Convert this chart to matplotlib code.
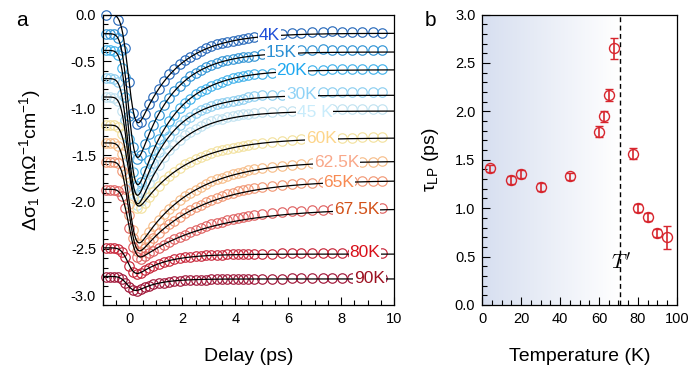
import math

import matplotlib

matplotlib.use("Agg")
import matplotlib.pyplot as plt
import numpy as np
from matplotlib.colors import LinearSegmentedColormap
from matplotlib.ticker import MultipleLocator

plt.rcParams["font.family"] = ["Liberation Sans", "DejaVu Sans"]
plt.rcParams["mathtext.fontset"] = "custom"
plt.rcParams["mathtext.rm"] = "Liberation Sans"
plt.rcParams["mathtext.it"] = "Liberation Sans:italic"

## Panel a: transient conductivity traces
temperaturas = ["4K", "15K", "20K", "30K", "45 K", "60K", "62.5K", "65K", "67.5K", "80K", "90K"]

delay_denso = [-0.9, -0.75, -0.6, -0.45, -0.3, -0.15, 0.0, 0.15, 0.3, 0.45, 0.6, 0.75, 0.9,
               1.1, 1.3, 1.5, 1.7, 1.9, 2.1, 2.3, 2.5, 2.7, 2.9, 3.1, 3.3, 3.5, 3.7, 3.9,
               4.1, 4.3, 4.5, 4.7]
delay_cauda = [5.0, 5.4, 5.75, 6.15, 6.5, 6.9, 7.3, 7.65, 8.05, 8.4, 8.8, 9.2, 9.55]

nan = np.nan
sinal_4K = [0.00, nan, nan, -0.06, -0.18, -0.36, -0.72, -1.05, -1.17, -1.15, -1.06, -0.96, -0.88,
            -0.79, -0.71, -0.64, -0.58, -0.53, -0.49, -0.45, -0.42, -0.39, -0.36, -0.34, -0.32,
            -0.30, -0.29, -0.28, -0.27, -0.26, -0.25, -0.24,
            -0.23, -0.22, -0.21, -0.20, -0.20, -0.19, -0.19, -0.18, -0.19, -0.19, -0.19, -0.19, -0.20]
sinal_15K = [-0.21, -0.21, -0.21, -0.25, -0.38, -0.67, -1.08, -1.41, -1.54, -1.50, -1.38, -1.27, -1.18,
             -1.07, -0.97, -0.89, -0.82, -0.76, -0.71, -0.66, -0.62, -0.59, -0.56, -0.54, -0.52,
             -0.50, -0.49, -0.48, -0.46, -0.45, -0.45, -0.44,
             -0.42, -0.40, -0.39, -0.38, -0.38, -0.38, -0.37, -0.38, -0.38, -0.38, -0.38, -0.38, -0.38]
sinal_20K = [-0.38, -0.38, -0.39, -0.43, -0.57, -0.88, -1.33, -1.68, -1.83, -1.79, -1.67, -1.55, -1.45,
             -1.33, -1.23, -1.14, -1.07, -1.00, -0.94, -0.90, -0.85, -0.82, -0.79, -0.76, -0.74,
             -0.72, -0.70, -0.68, -0.67, -0.66, -0.65, -0.64,
             -0.63, -0.62, -0.61, -0.60, -0.59, -0.59, -0.59, -0.58, -0.58, -0.58, -0.58, -0.58, -0.58]
sinal_30K = [-0.68, -0.68, -0.69, -0.72, -0.85, -1.13, -1.52, -1.83, -1.94, -1.89, -1.78, -1.67, -1.58,
             -1.47, -1.38, -1.30, -1.23, -1.18, -1.13, -1.09, -1.05, -1.02, -1.00, -0.98, -0.96,
             -0.94, -0.93, -0.92, -0.91, -0.90, -0.88, -0.87,
             -0.86, -0.86, -0.86, -0.85, -0.84, -0.83, -0.83, -0.83, -0.83, -0.83, -0.83, -0.83, -0.83]
sinal_45K = [-0.88, -0.88, -0.89, -0.92, -1.03, -1.28, -1.64, -1.92, -2.03, -1.99, -1.89, -1.80, -1.72,
             -1.61, -1.52, -1.45, -1.39, -1.34, -1.29, -1.25, -1.22, -1.19, -1.16, -1.14, -1.12,
             -1.11, -1.09, -1.08, -1.07, -1.06, -1.06, -1.05,
             -1.04, -1.04, -1.03, -1.03, -1.02, -1.02, -1.02, -1.01, -1.01, -1.01, -1.01, -1.01, -1.01]
sinal_60K = [-1.18, -1.18, -1.18, -1.20, -1.28, -1.46, -1.73, -1.96, -2.07, -2.07, -2.01, -1.95, -1.89,
             -1.83, -1.77, -1.72, -1.68, -1.64, -1.60, -1.57, -1.54, -1.52, -1.50, -1.48, -1.46,
             -1.45, -1.43, -1.42, -1.41, -1.40, -1.39, -1.38,
             -1.37, -1.36, -1.35, -1.34, -1.33, -1.33, -1.33, -1.32, -1.32, -1.32, -1.31, -1.31, -1.31]
sinal_62K = [-1.37, -1.37, -1.37, -1.40, -1.49, -1.70, -2.02, -2.30, -2.44, -2.45, -2.39, -2.32, -2.26,
             -2.19, -2.13, -2.08, -2.03, -1.98, -1.94, -1.90, -1.87, -1.84, -1.81, -1.78, -1.76,
             -1.74, -1.72, -1.70, -1.69, -1.68, -1.66, -1.65,
             -1.64, -1.63, -1.62, -1.61, -1.60, -1.59, -1.59, -1.58, -1.58, -1.57, -1.57, -1.57, -1.56]
sinal_65K = [-1.57, -1.57, -1.57, -1.59, -1.67, -1.86, -2.14, -2.39, -2.52, -2.53, -2.49, -2.43, -2.39,
             -2.33, -2.28, -2.24, -2.20, -2.16, -2.12, -2.09, -2.05, -2.03, -2.00, -1.98, -1.96,
             -1.94, -1.92, -1.90, -1.88, -1.87, -1.86, -1.85,
             -1.84, -1.83, -1.82, -1.81, -1.80, -1.80, -1.79, -1.79, -1.78, -1.78, -1.78, -1.78, -1.78]
sinal_67K = [-1.87, -1.87, -1.87, -1.88, -1.94, -2.07, -2.28, -2.48, -2.59, -2.61, -2.58, -2.55, -2.52,
             -2.49, -2.46, -2.43, -2.40, -2.37, -2.35, -2.32, -2.30, -2.28, -2.26, -2.24, -2.22,
             -2.21, -2.19, -2.18, -2.17, -2.16, -2.15, -2.14,
             -2.13, -2.12, -2.11, -2.10, -2.10, -2.09, -2.09, -2.08, -2.08, -2.08, -2.08, -2.07, -2.07]
sinal_80K = [-2.49, -2.49, -2.49, -2.50, -2.53, -2.59, -2.68, -2.75, -2.77, -2.76, -2.73, -2.70, -2.68,
             -2.66, -2.64, -2.63, -2.61, -2.60, -2.59, -2.59, -2.58, -2.58, -2.57, -2.57, -2.57,
             -2.57, -2.56, -2.56, -2.56, -2.56, -2.56, -2.56,
             -2.56, -2.56, -2.55, -2.55, -2.55, -2.55, -2.55, -2.55, -2.55, -2.55, -2.55, -2.55, -2.55]
sinal_90K = [-2.80, -2.80, -2.80, -2.80, -2.82, -2.86, -2.91, -2.94, -2.95, -2.93, -2.91, -2.90, -2.88,
             -2.87, -2.86, -2.85, -2.84, -2.84, -2.83, -2.83, -2.83, -2.83, -2.83, -2.82, -2.82,
             -2.82, -2.82, -2.82, -2.82, -2.82, -2.82, -2.82,
             -2.82, -2.82, -2.82, -2.81, -2.81, -2.81, -2.81, -2.81, -2.81, -2.81, -2.81, -2.81, -2.81]
sinais = [sinal_4K, sinal_15K, sinal_20K, sinal_30K, sinal_45K, sinal_60K,
          sinal_62K, sinal_65K, sinal_67K, sinal_80K, sinal_90K]

## Fit parameters (baseline, long-delay level, amplitude, decay time)
ajuste_base = [0.0, -0.205, -0.383, -0.684, -0.88, -1.18, -1.37, -1.57, -1.865, -2.49, -2.795]
ajuste_final = [-0.20, -0.40, -0.59, -0.862, -1.03, -1.316, -1.564, -1.769, -2.067, -2.557, -2.822]
ajuste_amp = [1.30, 1.56, 1.68, 1.50, 1.36, 0.94, 1.11, 0.94, 0.63, 0.31, 0.20]
ajuste_tau = [1.41, 1.29, 1.35, 1.22, 1.33, 1.79, 1.95, 2.17, 2.65, 1.00, 0.74]
ajuste_t0 = 0.0
ajuste_largura = 0.3

cores_circulos = ["#2c6cbc", "#3496d6", "#45b4ec", "#8ecff0", "#c2e3f1", "#f3e2a0",
                  "#f7bf8c", "#f29a78", "#e06464", "#c8283c", "#a0183a"]
cores_rotulos = ["#1f4ed8", "#2b8fd3", "#1ea8f0", "#8fd2f6", "#c9ecfb", "#fdd58a",
                 "#f9a88a", "#f88a52", "#d2521a", "#d8101a", "#9c1020"]
rotulo_x = [5.28, 5.74, 6.14, 6.5, 7.0, 7.26, 7.84, 7.92, 8.59, 8.9, 9.08]
rotulo_y = [-0.223, -0.408, -0.596, -0.851, -1.05, -1.323, -1.582, -1.794, -2.085, -2.535, -2.822]

## Panel b: recovery time vs temperature
temp_b = [4, 15, 20, 30, 45, 60, 62.5, 65, 67.5, 77.5, 80, 85, 90, 95]
tau_lp = [1.41, 1.29, 1.35, 1.22, 1.33, 1.79, 1.95, 2.17, 2.65, 1.56, 1.00, 0.91, 0.74, 0.70]
tau_err = [0.035, 0.038, 0.043, 0.04, 0.034, 0.06, 0.057, 0.059, 0.108, 0.057, 0.038, 0.038, 0.04, 0.117]
t_linha = 70.8

erf = np.vectorize(math.erf)


def curva_ajuste(t, y0, yinf, amp, tau):
    degrau = 0.5 * (1 + erf((t - ajuste_t0) / ajuste_largura))
    return y0 + degrau * (yinf - y0 - amp * np.exp(-(t - ajuste_t0) / tau))


fig = plt.figure(figsize=(6.89, 3.72), dpi=100)
ax = fig.add_axes([103 / 689, 1 - 305 / 372, 291 / 689, 290.5 / 372])
axb = fig.add_axes([482.3 / 689, 1 - 305 / 372, 194.4 / 689, 290.5 / 372])

delays = np.array(delay_denso + delay_cauda)
t_fino = np.linspace(-1, 10, 800)
for i in range(len(temperaturas)):
    ax.plot(delays, sinais[i], "o", mfc="none", mec=cores_circulos[i], ms=6.8, mew=0.85,
            clip_on=False, zorder=2)
for i in range(len(temperaturas)):
    ax.plot(t_fino, curva_ajuste(t_fino, ajuste_base[i], ajuste_final[i], ajuste_amp[i], ajuste_tau[i]),
            color="k", lw=0.9, zorder=3)
for i in range(len(temperaturas)):
    ax.text(rotulo_x[i], rotulo_y[i], temperaturas[i], color=cores_rotulos[i], fontsize=12.5,
            ha="center", va="center", zorder=5,
            bbox=dict(boxstyle="square,pad=0.05", fc="white", ec="none"))

ax.set_xlim(-1, 10)
ax.set_ylim(-3.1, 0.0)
ax.xaxis.set_major_locator(MultipleLocator(2))
ax.xaxis.set_minor_locator(MultipleLocator(0.5))
ax.yaxis.set_major_locator(MultipleLocator(0.5))
ax.yaxis.set_minor_locator(MultipleLocator(0.1))
ax.set_xlabel("Delay (ps)", fontsize=14, labelpad=16)
ax.set_ylabel("Δσ$_1$ (mΩ$^{-1}$cm$^{-1}$)", fontsize=14, labelpad=20)

## Gradient background up to T'
cmap_fundo = LinearSegmentedColormap.from_list("fundo", ["#d7dff0", "#ffffff"])
axb.imshow(np.linspace(0, 1, 256).reshape(1, -1), cmap=cmap_fundo, aspect="auto",
           extent=[0, t_linha, 0, 3], zorder=0)
axb.axvline(t_linha, color="k", ls=(0, (3.5, 2.5)), lw=1.0, zorder=1)
axb.errorbar(temp_b, tau_lp, yerr=tau_err, fmt="o", mfc="none", mec="#d7262e", ecolor="#d7262e",
             ms=7.2, mew=1.0, capsize=3, elinewidth=1.2, capthick=1.2, zorder=3)
axb.text(66.0, 0.44, r"$T'$", math_fontfamily="cm", fontsize=15, ha="left", va="center")
axb.set_xlim(0, 100)
axb.set_ylim(0, 3)
axb.xaxis.set_major_locator(MultipleLocator(20))
axb.xaxis.set_minor_locator(MultipleLocator(5))
axb.yaxis.set_major_locator(MultipleLocator(0.5))
axb.yaxis.set_minor_locator(MultipleLocator(0.1))
axb.set_xlabel("Temperature (K)", fontsize=14, labelpad=16)
axb.set_ylabel(r"τ$_\mathrm{LP}$ (ps)", fontsize=14, labelpad=10)

for eixo in (ax, axb):
    eixo.tick_params(which="both", direction="in", labelsize=10.5, width=0.8)
    eixo.tick_params(which="major", length=6, pad=5)
    eixo.tick_params(which="minor", length=3.5)
    for s in eixo.spines.values():
        s.set_linewidth(0.9)
    eixo.yaxis.set_major_formatter(matplotlib.ticker.FormatStrFormatter("%.1f"))

fig.text(22 / 689, 1 - 21 / 372, "a", fontsize=15, ha="center", va="center")
fig.text(430 / 689, 1 - 21 / 372, "b", fontsize=15, ha="center", va="center")

fig.savefig("out.png", dpi=100)
